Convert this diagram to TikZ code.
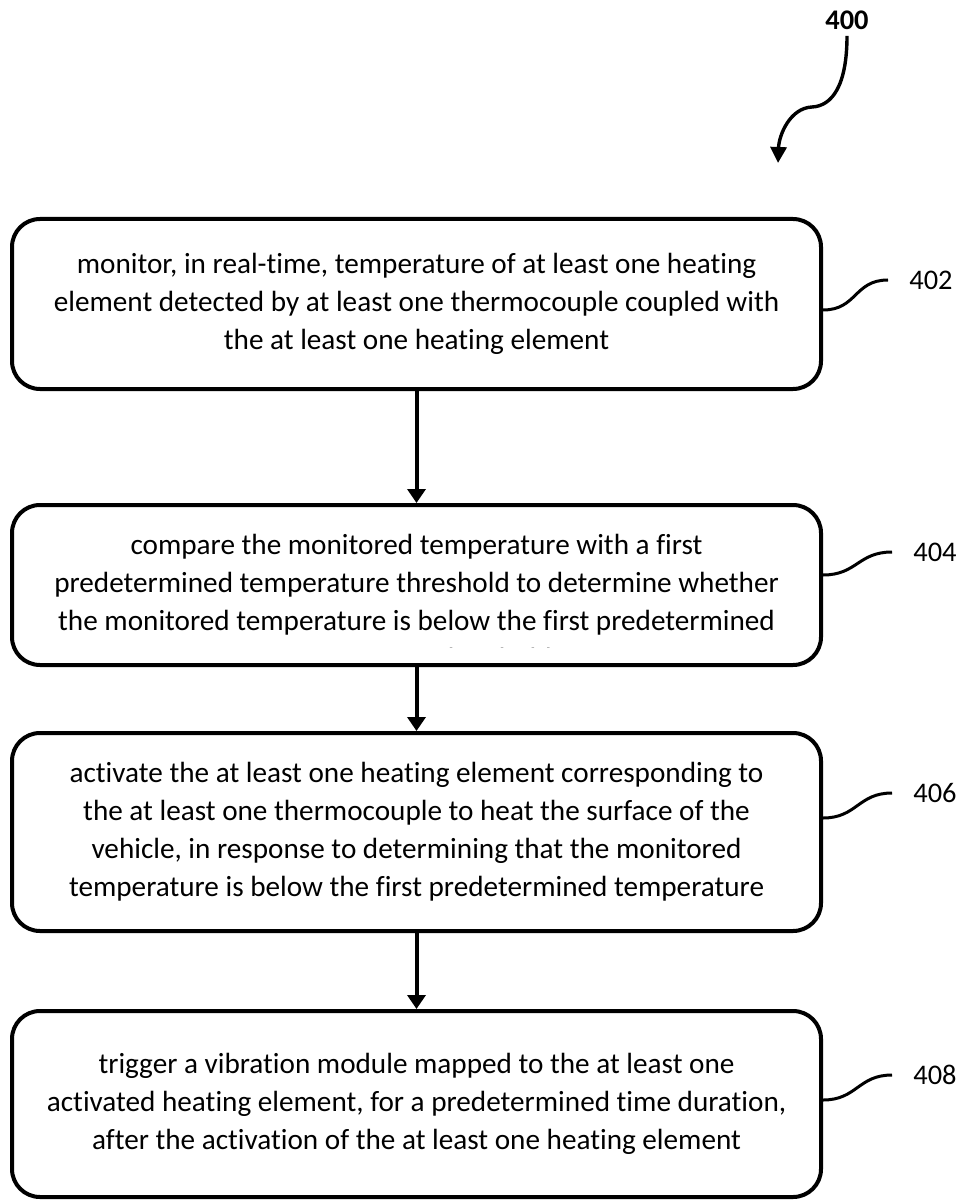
\documentclass[tikz,border=0pt]{standalone}
\usepackage{fontspec}
\setmainfont{Carlito}[Ligatures=NoCommon]
\usetikzlibrary{arrows.meta}

\begin{document}
\begin{tikzpicture}[x=0.5pt,y=-0.5pt,
  stepbox/.style={draw,line width=2pt,rounded corners=14pt,minimum width=404.5pt,
    inner sep=0pt,align=center,font=\fontsize{14.6pt}{19pt}\selectfont},
  steptext/.style={inner sep=0pt,align=center,font=\fontsize{14.6pt}{19pt}\selectfont},
  reflabel/.style={anchor=west,inner xsep=10.5pt,inner ysep=0pt,font=\fontsize{14.2pt}{16pt}\selectfont},
  flowarrow/.style={line width=2pt,-{Triangle[length=7pt,width=9pt]}},
  squig/.style={line width=1.5pt}]
  \useasboundingbox (0,0) rectangle (968,1203);

  % steps
  \node[stepbox,minimum height=85pt] (s402) at (416.5,304)
    {monitor, in real-time, temperature of at least one heating\\
     element detected by at least one thermocouple coupled with\\
     the at least one heating element};
  \node[stepbox,minimum height=80pt] (s404) at (416.5,585) {};
  \begin{scope}
    \clip (12,507) rectangle (821,647);
    \node[steptext] (t404) at (416.5,604)
      {compare the monitored temperature with a first\\
       predetermined temperature threshold to determine whether\\
       the monitored temperature is below the first predetermined\\
       temperature threshold};
  \end{scope}
  \node[stepbox,minimum height=99pt] (s406) at (416.5,832)
    {activate the at least one heating element corresponding to\\
     the at least one thermocouple to heat the surface of the\\
     vehicle, in response to determining that the monitored\\
     temperature is below the first predetermined temperature};
  \node[stepbox,minimum height=93pt] (s408) at (416.5,1104)
    {trigger a vibration module mapped to the at least one\\
     activated heating element, for a predetermined time duration,\\
     after the activation of the at least one heating element};

  \draw[flowarrow] (s402.south) -- (s404.north);
  \draw[flowarrow] (s404.south) -- (s406.north);
  \draw[flowarrow] (s406.south) -- (s408.north);

  % reference numerals
  \node[reflabel] (l402) at (888,280) {402};
  \node[reflabel] (l404) at (892,552) {404};
  \node[reflabel] (l406) at (892,793) {406};
  \node[reflabel] (l408) at (892,1075) {408};

  \draw[squig] ([yshift=-3pt]s402.east) .. controls +(34,0) and +(-34,0) .. (l402.west);
  \draw[squig] ([yshift=5pt]s404.east) .. controls +(34,0) and +(-34,0) .. (l404.west);
  \draw[squig] ([yshift=7pt]s406.east) .. controls +(34,0) and +(-34,0) .. (l406.west);
  \draw[squig] ([yshift=2pt]s408.east) .. controls +(34,0) and +(-34,0) .. (l408.west);

  % figure number
  \node[font=\fontsize{14.2pt}{16pt}\selectfont\bfseries,inner sep=3pt] (f400) at (847,20) {400};
  \coordinate (c400) at (778,163);
  \draw[line width=1.7pt,-{Triangle[length=8pt,width=8pt]}] (f400.south) .. controls +(0,50) and (832,106) .. (812,107)
    .. controls (790,108) and (779,135) .. (c400);
\end{tikzpicture}
\end{document}
